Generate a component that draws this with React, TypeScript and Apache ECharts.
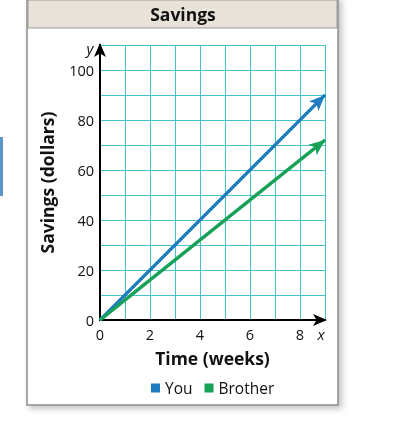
import React, { useEffect, useRef } from "react";
import * as echarts from "echarts";

const weeks = [0, 1, 2, 3, 4, 5, 6, 7, 8, 9];
const youSavings = [0, 10, 20, 30, 40, 50, 60, 70, 80, 90];
const brotherSavings = [0, 8, 16, 24, 32, 40, 48, 56, 64, 72];
const xTickLabels = [0, 2, 4, 6, 8];
const yTickLabels = [0, 20, 40, 60, 80, 100];

const FONT = "'Open Sans', 'Noto Sans', sans-serif";
const BLUE = "#1f7cc0";
const GREEN = "#18a158";
const GRID = "#45c3c6";

export default function App() {
  const ref = useRef<HTMLDivElement>(null);
  useEffect(() => {
    if (!ref.current) return;
    const chart = echarts.init(ref.current, undefined, { renderer: "svg" });
    const mk = (name: string, ys: number[], color: string) => {
      const last = weeks.length - 1;
      return {
        name,
        type: "line",
        data: weeks.map((w, i) => [w, ys[i]]),
        showSymbol: false,
        symbol: "rect",
        lineStyle: { color, width: 3 },
        itemStyle: { color },
        z: 5,
        markLine: {
          silent: true,
          symbol: ["none", "arrow"],
          symbolSize: [10, 16],
          label: { show: false },
          lineStyle: { color, width: 3, type: "solid" },
          data: [[{ coord: [weeks[0], ys[0]] }, { coord: [weeks[last], ys[last]] }]],
        },
      };
    };
    chart.setOption({
      animation: false,
      textStyle: { fontFamily: FONT },
      grid: { left: 100, top: 45, width: 225, height: 275, containLabel: false },
      xAxis: {
        type: "value",
        min: 0,
        max: 9,
        interval: 1,
        name: "Time (weeks)",
        nameLocation: "middle",
        nameGap: 29,
        nameTextStyle: { fontFamily: FONT, fontSize: 17.5, fontWeight: "bold", color: "#111" },
        axisLine: {
          show: true,
          lineStyle: { color: "#000", width: 2 },
          symbol: ["none", "arrow"],
          symbolSize: [9, 14],
          symbolOffset: [0, 2],
        },
        axisTick: { show: false },
        axisLabel: {
          fontFamily: FONT,
          fontSize: 14.5,
          color: "#111",
          margin: 7,
          formatter: (v: number) => (xTickLabels.includes(v) ? String(v) : ""),
        },
        splitLine: { show: true, lineStyle: { color: GRID, width: 1 } },
      },
      yAxis: {
        type: "value",
        min: 0,
        max: 110,
        interval: 10,
        name: "Savings (dollars)",
        nameLocation: "middle",
        nameRotate: 90,
        nameGap: 44,
        nameTextStyle: { fontFamily: FONT, fontSize: 17.5, fontWeight: "bold", color: "#111" },
        axisLine: {
          show: true,
          lineStyle: { color: "#000", width: 2 },
          symbol: ["none", "arrow"],
          symbolSize: [9, 14],
          symbolOffset: [0, 2],
        },
        axisTick: { show: false },
        axisLabel: {
          fontFamily: FONT,
          fontSize: 14.5,
          color: "#111",
          margin: 6,
          formatter: (v: number) => (yTickLabels.includes(v) ? String(v) : ""),
        },
        splitLine: { show: true, lineStyle: { color: GRID, width: 1 } },
      },
      legend: {
        left: 146,
        top: 375,
        icon: "rect",
        itemWidth: 9,
        itemHeight: 9,
        itemGap: 12,
        textStyle: { fontFamily: FONT, fontSize: 15.5, color: "#111" },
        data: ["You", "Brother"],
      },
      graphic: [
        {
          type: "rect",
          z: -10,
          shape: { x: 27, y: -2, width: 311, height: 407 },
          style: {
            fill: "#fff",
            stroke: "#8c8c8c",
            lineWidth: 1.5,
            shadowBlur: 6,
            shadowOffsetX: 3,
            shadowOffsetY: 3,
            shadowColor: "rgba(0,0,0,0.25)",
          },
        },
        {
          type: "rect",
          z: -9,
          shape: { x: 28, y: 0, width: 309, height: 28 },
          style: { fill: "#e9e2d8", stroke: "#9a9a9a", lineWidth: 1 },
        },
        {
          type: "text",
          x: 183,
          y: 14,
          style: {
            text: "Savings",
            fontFamily: FONT,
            fontSize: 17.5,
            fontWeight: "bold",
            fill: "#111",
            align: "center",
            verticalAlign: "middle",
          },
        },
        {
          type: "rect",
          shape: { x: 0, y: 137, width: 3, height: 59 },
          style: { fill: "#5b95cc" },
        },
        {
          type: "text",
          x: 90,
          y: 48,
          style: {
            text: "y",
            fontFamily: FONT,
            fontSize: 15,
            fontStyle: "italic",
            fill: "#111",
            align: "center",
            verticalAlign: "middle",
          },
        },
        {
          type: "text",
          x: 321,
          y: 334,
          style: {
            text: "x",
            fontFamily: FONT,
            fontSize: 15,
            fontStyle: "italic",
            fill: "#111",
            align: "center",
            verticalAlign: "middle",
          },
        },
      ],
      series: [mk("You", youSavings, BLUE), mk("Brother", brotherSavings, GREEN)],
    });
    return () => chart.dispose();
  }, []);
  return (
    <div
      ref={ref}
      style={{ position: "fixed", left: 0, top: 0, width: 404, height: 426 }}
    />
  );
}
